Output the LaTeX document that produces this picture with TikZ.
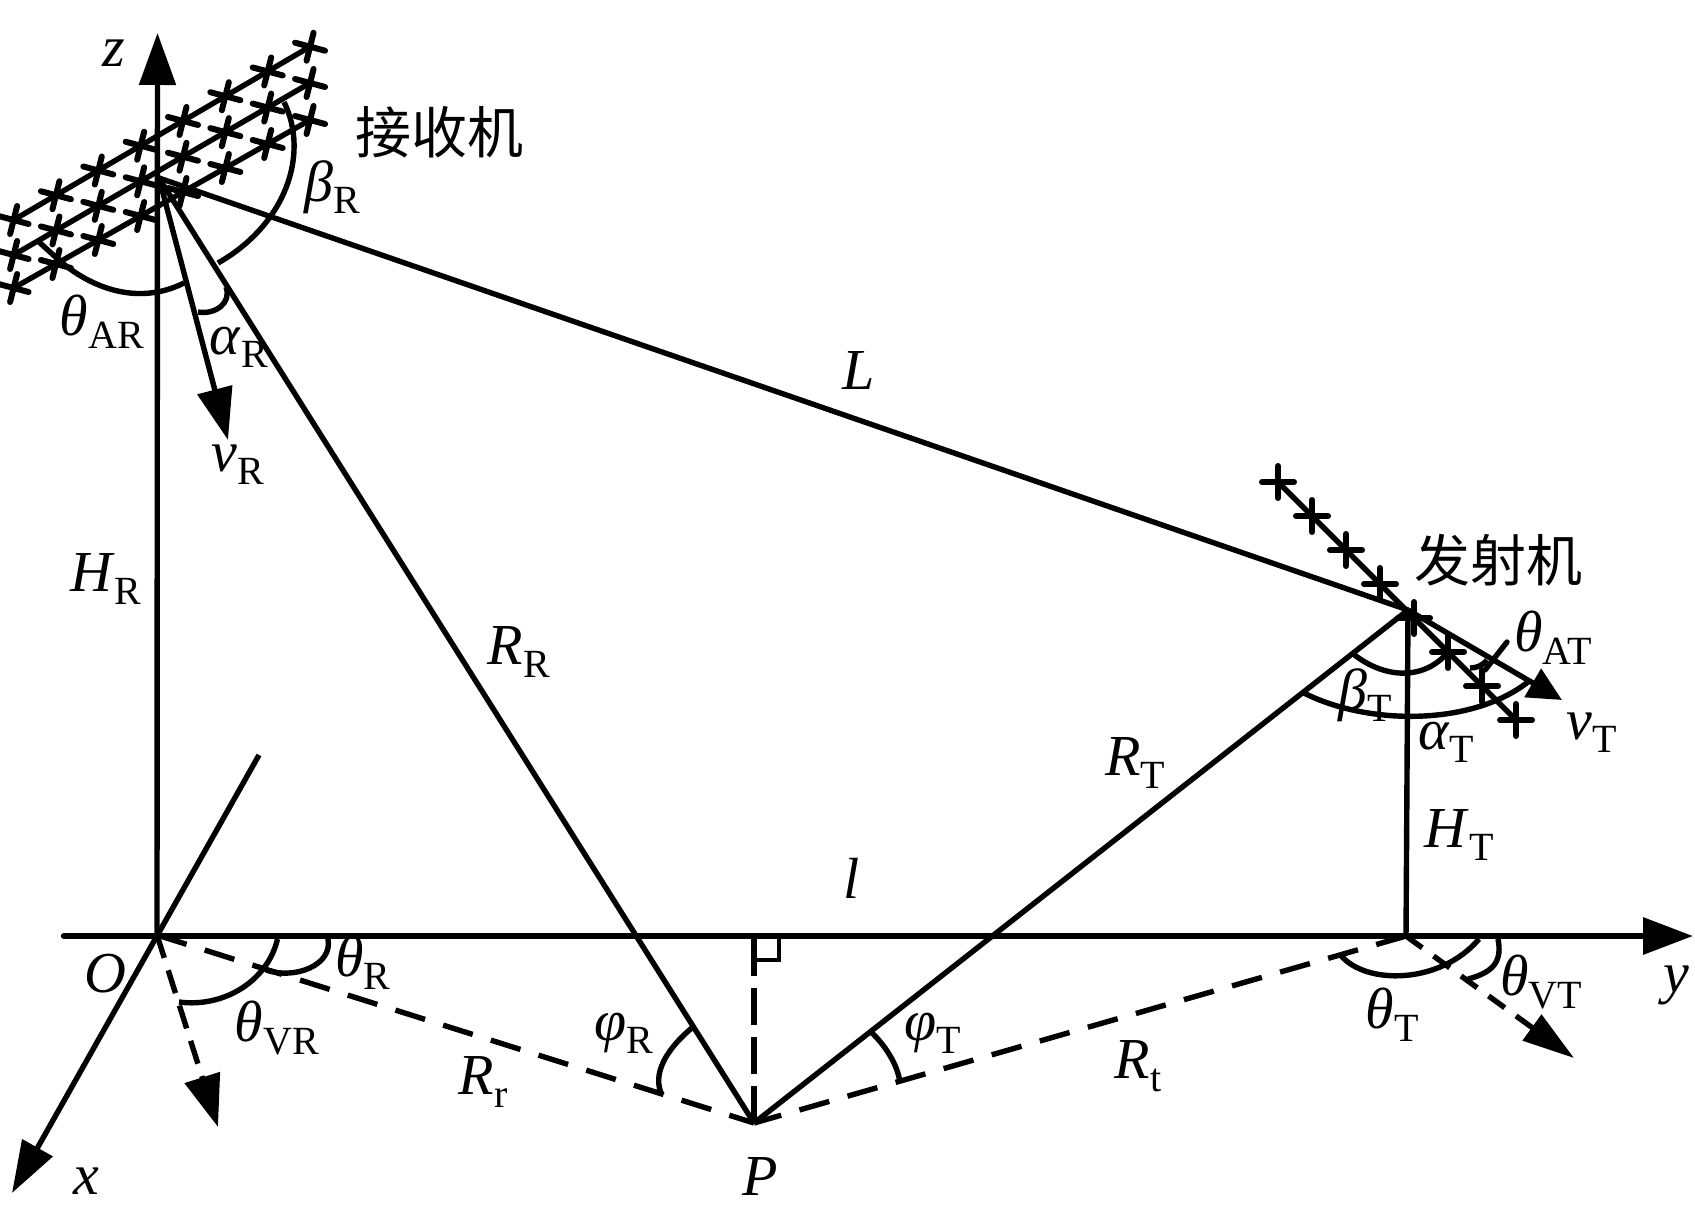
\documentclass[tikz,border=0pt]{standalone}
\usepackage{fontspec}
\setmainfont{Liberation Serif}
\newfontfamily\cjk{Noto Sans CJK SC}
\usetikzlibrary{arrows.meta,positioning}
% italic symbol with upright subscript
\newcommand\lb[2]{\textit{#1}\raisebox{-0.22em}{\fontsize{20}{21}\selectfont #2}}
\tikzset{
	lab/.style={inner sep=0pt, yshift=-1.5pt, font=\fontsize{29}{30}\selectfont},
	cjklab/.style={inner sep=0pt, font=\fontsize{28}{30}\selectfont\cjk},
	ln/.style={line width=2.7pt},
	axisline/.style={line width=3.2pt},
	arcline/.style={line width=2.7pt},
	dashline/.style={line width=2.7pt, dash pattern=on 15.5pt off 9.5pt},
	rxstar/.pic={\draw[line width=3pt, line cap=round] (3.5,-14) -- (-3.5,14) (-15,-4) -- (15,4);},
	txstar/.pic={\draw[line width=3pt, line cap=round] (0,-16) -- (0,16) (-16,0) -- (16,0);}
}
\begin{document}
\begin{tikzpicture}[x=0.5pt,y=-0.5pt]
\useasboundingbox (0,0) rectangle (1695,1214);
\coordinate (O) at (157,935);
\coordinate (A) at (159,178);
\coordinate (T) at (1408,610);
\coordinate (F) at (1406,936);
\coordinate (P) at (754,1123);
\coordinate (zend) at (157.5,33);
\coordinate (ystart) at (64,936);
\coordinate (yend) at (1693,936);
\coordinate (xstart) at (259,755);
\coordinate (xend) at (12,1193);
\coordinate (vR) at (228,440);
\coordinate (vT) at (1562,700);
\coordinate (vRg) at (218,1127);
\coordinate (vTg) at (1574,1058);
\coordinate (Pt) at (754,939);
% axes
\draw[ln,-{Triangle[length=26pt,width=18pt]}] (O) -- (zend);
\draw[axisline,line cap=round,-{Triangle[length=25pt,width=18pt]}] (ystart) -- (yend);
\draw[ln,-{Triangle[length=26pt,width=17pt]}] (xstart) -- (xend);
% receiver array
\foreach \ya/\yb in {220/46.7,255/83,288/120}{
	\draw[ln] (13.6,\ya) -- (310,\yb);
	\foreach \i in {0,...,7}{
		\pgfmathsetmacro\sx{13.6+42.35*\i}
		\pgfmathsetmacro\sy{\ya+(\yb-\ya)*\i/7}
		\pic at (\sx,\sy) {rxstar};
	}
}
% transmitter array
\draw[ln] (1278,482) -- (1516,720);
\foreach \i in {0,...,7}{
	\pgfmathsetmacro\sx{1278+34*\i}
	\pgfmathsetmacro\sy{482+34*\i}
	\pic at (\sx,\sy) {txstar};
}
% main lines
\draw[ln] (A) -- (T);
\draw[ln] (A) -- (P);
\draw[ln] (T) -- (P);
\draw[ln] (T) -- (F);
\draw[ln,-{Triangle[length=26pt,width=17.5pt]}] (A) -- (vR);
\draw[ln,-{Triangle[length=17pt,width=16pt]}] (T) -- (vT);
% ground lines
\draw[dashline] (O) -- (P);
\draw[dashline] (F) -- (P);
\draw[ln,dash pattern=on 18.5pt off 6pt] (Pt) -- (P);
\draw[ln,dash pattern=on 12pt off 6.5pt,-{Triangle[length=26pt,width=18pt]}] (O) -- (vRg);
\draw[ln,dash pattern=on 10pt off 7pt,-{Triangle[length=26pt,width=15.5pt]}] (F) -- (vTg);
\draw[line width=2.2pt] (779,939) -- (779,960) -- (755,960);
% angle marks
\draw[arcline] (198,312) .. controls (215,315) and (232,303) .. (226,287);
\draw[arcline] (284,102) .. controls (310,155) and (285,225) .. (218,263);
\draw[arcline] (39,242) -- (61,262) .. controls (95,290) and (140,305) .. (184,283);
\draw[arcline] (1352,653) .. controls (1385,680) and (1425,680) .. (1448,652);
\draw[arcline] (1302,692) .. controls (1365,725) and (1470,727) .. (1528,682);
\draw[arcline,line cap=round] (1507,642) -- (1485,670);
\draw[arcline] (1487,660) .. controls (1482,666) and (1476,668) .. (1470,668);
\draw[arcline] (328,939) .. controls (333,965) and (295,980) .. (266,970);
\draw[arcline] (277.5,939) .. controls (268,980) and (225,1008) .. (179,1002);
\draw[arcline] (693,1027) .. controls (665,1050) and (652,1075) .. (662,1095);
\draw[arcline] (871,1032) .. controls (885,1045) and (898,1065) .. (900,1083);
\draw[arcline] (1340.5,955) .. controls (1365,985) and (1440,985) .. (1479,939);
\draw[arcline] (1498,939) .. controls (1502,960) and (1495,972) .. (1468,979);
% labels
\node[lab] (zlab) at (114,50) {\textit{z}};
\node[lab] (ylab) at (1676,982) {\textit{y}};
\node[lab] (xlab) at (86,1178) {\textit{x}};
\node[lab] (Olab) at (105,971) {\textit{O}};
\node[lab] (Plab) at (760,1173) {\textit{P}};
\node[lab] (Llab) at (859,368) {\textit{L}};
\node[lab] (llab) at (852,875) {\textit{l}};
\node[cjklab] (rxlab) at (439,132) {接收机};
\node[cjklab] (txlab) at (1498,560) {发射机};
\node[lab] (bRlab) at (332,184) {\lb{β}{R}};
\node[lab] (tARlab) at (102,319) {\lb{θ}{AR}};
\node[lab] (aRlab) at (239,344) {\lb{α}{R}};
\node[lab] (vRlab) at (238,462) {\lb{v}{R}};
\node[lab] (HRlab) at (106,576) {\lb{H}{R}};
\node[lab] (RRlab) at (519,649) {\lb{R}{R}};
\node[lab] (tATlab) at (1553,635) {\lb{θ}{AT}};
\node[lab] (bTlab) at (1365,692) {\lb{β}{T}};
\node[lab] (aTlab) at (1446,739) {\lb{α}{T}};
\node[lab] (vTlab) at (1592,730) {\lb{v}{T}};
\node[lab] (RTlab) at (1135,760) {\lb{R}{T}};
\node[lab] (HTlab) at (1459,832) {\lb{H}{T}};
\node[lab] (tRlab) at (363,960) {\lb{θ}{R}};
\node[lab] (tVRlab) at (277,1025) {\lb{θ}{VR}};
\node[lab] (Rrlab) at (483,1079) {\lb{R}{r}};
\node[lab] (pRlab) at (624,1030) {\lb{φ}{R}};
\node[lab] (pTlab) at (933,1030) {\lb{φ}{T}};
\node[lab] (Rtlab) at (1138,1063) {\lb{R}{t}};
\node[lab] (tTlab) at (1392,1012) {\lb{θ}{T}};
\node[lab] (tVTlab) at (1541,979) {\lb{θ}{VT}};
\end{tikzpicture}
\end{document}
